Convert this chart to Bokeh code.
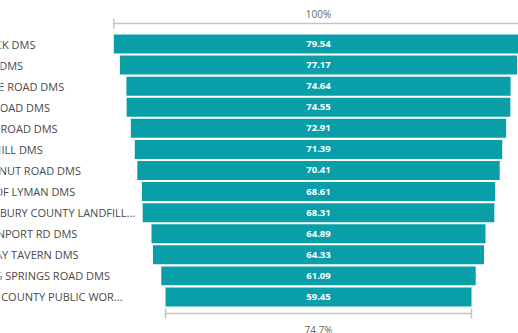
from bokeh.plotting import figure
from bokeh.models import Range1d, ColumnDataSource
from bokeh.core.properties import value
from bokeh.embed import file_html
from bokeh.resources import INLINE

# Funnel data: site names and their scores
sites = [
    "BEDROCK DMS",
    "NORTH DMS",
    "HILLSIDE ROAD DMS",
    "FERRY ROAD DMS",
    "FOREST ROAD DMS",
    "BIRCH HILL DMS",
    "BUTTERNUT ROAD DMS",
    "TOWN OF LYMAN DMS",
    "CANTERBURY COUNTY LANDFILL...",
    "JACKSONPORT RD DMS",
    "HALFWAY TAVERN DMS",
    "BOILING SPRINGS ROAD DMS",
    "BUTLER COUNTY PUBLIC WOR...",
]
scores = [79.54, 77.17, 74.64, 74.55, 72.91, 71.39, 70.41,
          68.61, 68.31, 64.89, 64.33, 61.09, 59.45]

BAR = "#0A9FA8"
FONT = "Open Sans"

n = len(scores)
top, bottom = max(scores), min(scores)
rows = list(range(n))

src = ColumnDataSource(dict(
    y=rows,
    left=[-v / 2 for v in scores],
    right=[v / 2 for v in scores],
    label=[f"{v:.2f}" for v in scores],
    name=sites,
    zero=[0] * n,
))

# horizontal scale: bottom bar spans 306 px, funnel centred at 318 px
px = 306 / bottom
x_lo, x_hi = -318 / px, (518 - 318) / px
pitch, first = 21.08, 43.5

p = figure(width=518, height=333, output_backend="svg", toolbar_location=None,
           x_range=Range1d(x_lo, x_hi),
           y_range=Range1d((333 - first) / pitch, -first / pitch),
           min_border=0, outline_line_color=None)
p.axis.visible = False
p.grid.visible = False
p.background_fill_color = "white"

# funnel bars
p.hbar(y="y", left="left", right="right", height=0.9, source=src,
       fill_color=BAR, line_color=None)

# value labels in the centre of each bar
p.text(x="zero", y="y", text="label", source=src, text_color="white",
       text_font=value(FONT), text_font_size="9.5px", text_font_style="bold",
       text_align="center", text_baseline="middle")

# category labels, left aligned (clipped by the canvas edge)
name_x = x_lo - 42 / px
p.text(x=[name_x] * n, y=rows, text=sites, text_color="#4a4a4a",
       text_font=value(FONT), text_font_size="11px",
       text_align="left", text_baseline="middle")

# brackets showing the first and last stage relative widths
tick = 5 / pitch
GRAY = "#c4c4c4"
for yb, w, lab, ly in [(-0.97, top, "100%", -1.40),
                       (n - 1 + 0.78, bottom, f"{bottom / top * 100:.1f}%", n - 1 + 1.58)]:
    p.segment(x0=[-w / 2], y0=[yb], x1=[w / 2], y1=[yb], line_color=GRAY, line_width=1.5)
    p.segment(x0=[-w / 2, w / 2], y0=[yb - tick] * 2, x1=[-w / 2, w / 2], y1=[yb + tick] * 2,
              line_color=GRAY, line_width=1.5)
    p.text(x=[0], y=[ly], text=[lab], text_color="#666666", text_font=value(FONT),
           text_font_size="10px", text_align="center", text_baseline="middle")

open("out.html", "w").write(file_html(p, INLINE))
